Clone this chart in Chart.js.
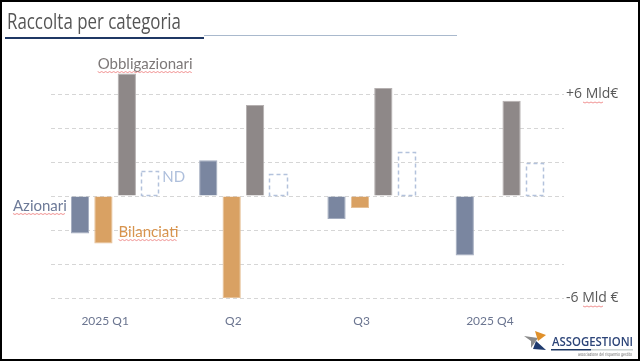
<!DOCTYPE html>
<html><head><meta charset="utf-8">
<script src="https://cdn.jsdelivr.net/npm/chart.js@4/dist/chart.umd.min.js"></script>
<style>html,body{margin:0;padding:0;background:#fff}#wrap{width:640px;height:361px;position:relative}canvas{display:block}</style>
</head><body><div id="wrap"><canvas id="c" width="640" height="361"></canvas></div>
<script>
// ---- data ----
const categories = ['2025 Q1', 'Q2', 'Q3', '2025 Q4'];
const seriesNames = ['Azionari', 'Bilanciati', 'Obbligazionari', 'ND'];
const azionari = [-2.2, 2.1, -1.35, -3.5];
const bilanciati = [-2.8, -6.0, -0.7, -0.05];
const obbligazionari = [7.2, 5.35, 6.35, 5.6];
const nd = [1.5, 1.3, 2.6, 1.95];
const yTickLabels = { '6': '+6 Mld€', '-6': '-6 Mld €' };
const titleText = 'Raccolta per categoria';

const COL = { az: '#7a86a0', bil: '#d9a163', obb: '#8e8888', nd: '#b3c2dc' };
const LABCOL = ['#6d7a98', '#d8944e', '#7d7878', '#aebfdc'];

function fitText(ctx, text, x, y, w, align) {
  const m = ctx.measureText(text).width;
  const s = w / m;
  ctx.save();
  ctx.translate(x, y);
  ctx.scale(s, 1);
  ctx.textAlign = 'left';
  ctx.fillText(text, align === 'right' ? -m : 0, 0);
  ctx.restore();
}
function squiggle(ctx, x1, x2, y) {
  ctx.save();
  ctx.strokeStyle = 'rgba(235,110,110,0.75)';
  ctx.lineWidth = 1;
  ctx.beginPath();
  for (let x = x1, i = 0; x <= x2; x += 2, i++) {
    const yy = y + (i % 2 ? 1 : 0);
    if (i === 0) ctx.moveTo(x, yy); else ctx.lineTo(x, yy);
  }
  ctx.stroke();
  ctx.restore();
}

const ndPlugin = {
  id: 'ndDashed',
  afterDatasetsDraw(chart) {
    const ctx = chart.ctx;
    const meta = chart.getDatasetMeta(3);
    ctx.save();
    ctx.strokeStyle = COL.nd;
    ctx.lineWidth = 1.5;
    ctx.setLineDash([4, 3]);
    meta.data.forEach(el => {
      const l = Math.round(el.x - el.width / 2) + 0.5;
      const r = Math.round(el.x + el.width / 2) - 0.5;
      ctx.strokeRect(l, Math.round(el.y) + 0.5, r - l, Math.round(el.base) - Math.round(el.y) - 1);
    });
    ctx.restore();
  }
};

const labelsPlugin = {
  id: 'seriesLabels',
  afterDatasetsDraw(chart) {
    const ctx = chart.ctx;
    ctx.save();
    ctx.font = '15px Lato';
    ctx.textBaseline = 'middle';
    const e0 = chart.getDatasetMeta(0).data[0];
    const e1 = chart.getDatasetMeta(1).data[0];
    const e2 = chart.getDatasetMeta(2).data[0];
    const e3 = chart.getDatasetMeta(3).data[0];
    // Azionari
    ctx.fillStyle = LABCOL[0];
    let x = e0.x - e0.width / 2 - 4, y = e0.base + 10;
    ctx.textAlign = 'right';
    ctx.fillText(seriesNames[0], x, y);
    let w = ctx.measureText(seriesNames[0]).width;
    squiggle(ctx, x - w, x, y + 7);
    // Bilanciati
    ctx.textAlign = 'left';
    ctx.fillStyle = LABCOL[1];
    x = e1.x + e1.width / 2 + 6; y = e1.y - 11;
    ctx.fillText(seriesNames[1], x, y);
    w = ctx.measureText(seriesNames[1]).width;
    squiggle(ctx, x, x + w, y + 7);
    // Obbligazionari
    ctx.fillStyle = LABCOL[2];
    x = e2.x - e2.width / 2 - 20; y = e2.y - 9;
    ctx.fillText(seriesNames[2], x, y);
    w = ctx.measureText(seriesNames[2]).width;
    squiggle(ctx, x, x + w, y + 7);
    // ND
    ctx.fillStyle = LABCOL[3];
    x = e3.x + e3.width / 2 + 3; y = e3.y + 7;
    ctx.fillText(seriesNames[3], x, y);
    ctx.restore();
  }
};

const decorPlugin = {
  id: 'decor',
  beforeDraw(chart) {
    const ctx = chart.ctx;
    ctx.save();
    ctx.fillStyle = '#fff';
    ctx.fillRect(0, 0, chart.width, chart.height);
    ctx.restore();
  },
  afterDraw(chart) {
    const ctx = chart.ctx;
    ctx.save();
    // title
    ctx.fillStyle = '#555';
    ctx.font = '21px "Open Sans"';
    ctx.textBaseline = 'alphabetic';
    fitText(ctx, titleText, 7, 29, 174);
    // title rule
    ctx.fillStyle = '#a9b9cd';
    ctx.fillRect(204, 35, 253, 1);
    ctx.fillStyle = '#1f3864';
    ctx.fillRect(5, 37, 199, 2);
    // squiggles under Mld in right labels
    const ys = chart.scales.y;
    squiggle(ctx, 583, 603, ys.getPixelForValue(6) + 8);
    squiggle(ctx, 583, 603, ys.getPixelForValue(-6) + 8);
    // logo
    ctx.fillStyle = '#8a8a8a';
    ctx.beginPath(); ctx.moveTo(524, 336); ctx.lineTo(538, 338); ctx.lineTo(531, 348); ctx.lineTo(531, 341); ctx.closePath(); ctx.fill();
    ctx.fillStyle = '#e0902a';
    ctx.beginPath(); ctx.moveTo(535, 331); ctx.lineTo(546, 335); ctx.lineTo(538, 341); ctx.closePath(); ctx.fill();
    ctx.fillStyle = '#1f3a6e';
    ctx.beginPath(); ctx.moveTo(536, 341); ctx.lineTo(546, 350); ctx.lineTo(533, 349); ctx.closePath(); ctx.fill();
    ctx.fillStyle = '#2c4478';
    ctx.font = '600 12px "Open Sans"';
    ctx.textBaseline = 'alphabetic';
    fitText(ctx, 'ASSOGESTIONI', 552, 346, 81);
    ctx.fillStyle = '#1f3864';
    ctx.fillRect(551, 349, 40, 1.5);
    ctx.fillStyle = '#9aa';
    ctx.fillRect(591, 349.5, 42, 0.8);
    ctx.fillStyle = '#666';
    ctx.font = '5px "DejaVu Sans"';
    fitText(ctx, 'associazione del risparmio gestito', 578, 356, 54);
    // frame
    ctx.strokeStyle = '#000';
    ctx.lineWidth = 2;
    ctx.strokeRect(1, 1, chart.width - 2, chart.height - 2);
    ctx.restore();
  }
};

const data = {
  labels: categories,
  datasets: [
    { label: seriesNames[0], data: azionari, backgroundColor: COL.az, borderColor: '#a3acbf', borderWidth: 1 },
    { label: seriesNames[1], data: bilanciati, backgroundColor: COL.bil, borderColor: '#e6c096', borderWidth: 1 },
    { label: seriesNames[2], data: obbligazionari, backgroundColor: COL.obb, borderColor: '#b5b0b0', borderWidth: 1 },
    { label: seriesNames[3], data: nd, backgroundColor: 'rgba(0,0,0,0)', borderWidth: 0 }
  ]
};

new Chart(document.getElementById('c'), {
  type: 'bar',
  data,
  plugins: [decorPlugin, ndPlugin, labelsPlugin],
  options: {
    responsive: false,
    devicePixelRatio: 1,
    animation: false,
    layout: { padding: { left: 51, top: 60, right: 0, bottom: 0 } },
    datasets: { bar: { categoryPercentage: 0.73, barPercentage: 0.78 } },
    plugins: { legend: { display: false }, tooltip: { enabled: false } },
    scales: {
      x: {
        grid: { display: false },
        border: { display: false },
        ticks: { color: '#6b7590', font: { family: 'Lato', size: 12 }, padding: 8, labelOffset: -10, maxRotation: 0 },
        afterFit(s) { s.height = 63; }
      },
      y: {
        position: 'right',
        min: -6, max: 8,
        border: { display: false, dash: [4, 3] },
        grid: {
          color: ctx => (ctx.tick && ctx.tick.value === 8) ? 'rgba(0,0,0,0)' : '#d6d6d6',
          drawTicks: false,
          lineWidth: 1
        },
        ticks: {
          stepSize: 2,
          padding: 2,
          color: '#595959',
          font: { family: 'Open Sans', size: 14 },
          callback: v => yTickLabels[String(v)] || ''
        },
        afterFit(s) { s.width = 76; }
      }
    }
  }
});
</script>
</body></html>
